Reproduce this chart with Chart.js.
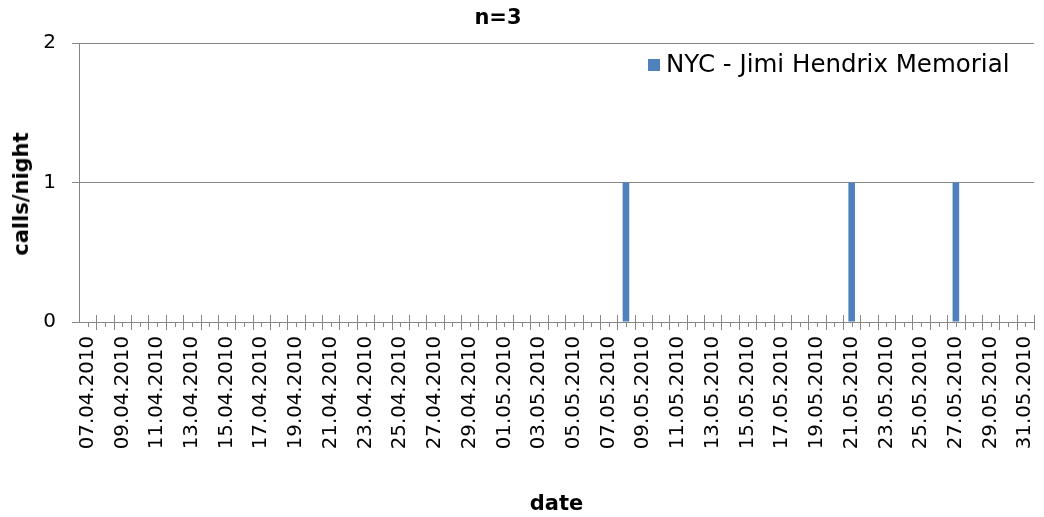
<!DOCTYPE html>
<html>
<head>
<meta charset="utf-8">
<script src="https://cdn.jsdelivr.net/npm/chart.js@4/dist/chart.umd.min.js"></script>
<style>
  html, body { margin: 0; padding: 0; background: #fff; }
  #wrap { position: relative; width: 1044px; height: 517px; font-family: 'DejaVu Sans', Verdana, sans-serif; color: #000; }
  #title { position: absolute; top: 4px; left: 448px; width: 100px; text-align: center; font-size: 21px; font-weight: bold; line-height: 26px; }
  #ytitle { position: absolute; left: 21px; top: 194px; transform: translate(-50%, -50%) rotate(-90deg); white-space: nowrap; font-size: 21px; font-weight: bold; line-height: 26px; }
  #legend { position: absolute; left: 648px; top: 49px; white-space: nowrap; font-size: 24.5px; line-height: 30px; }
  #legend .sw { display: inline-block; width: 12px; height: 12px; background: #4F81BD; margin-right: 6px; vertical-align: 1px; }
</style>
</head>
<body>
<div id="wrap">
  <canvas id="callsChart" width="1044" height="517"></canvas>
  <div id="title">n=3</div>
  <div id="ytitle">calls/night</div>
  <div id="legend"><span class="sw"></span><span id="legendText"></span></div>
</div>
<script>
// one category per night, 07.04.2010 .. 31.05.2010
const firstNight = new Date(2010, 3, 7);
const nightCount = 55;
const dates = [];
for (let i = 0; i < nightCount; i++) {
  const d = new Date(firstNight.getFullYear(), firstNight.getMonth(), firstNight.getDate() + i);
  const dd = String(d.getDate()).padStart(2, '0');
  const mm = String(d.getMonth() + 1).padStart(2, '0');
  dates.push(dd + '.' + mm + '.' + d.getFullYear());
}

const seriesName = 'NYC - Jimi Hendrix Memorial';
// calls on 08.05, 21.05 and 27.05, nothing on the other nights
const callsPerNight = [
  0, 0, 0, 0, 0, 0, 0, 0, 0, 0,   // 07.04 - 16.04
  0, 0, 0, 0, 0, 0, 0, 0, 0, 0,   // 17.04 - 26.04
  0, 0, 0, 0, 0, 0, 0, 0, 0, 0,   // 27.04 - 06.05
  0, 1, 0, 0, 0, 0, 0, 0, 0, 0,   // 07.05 - 16.05
  0, 0, 0, 0, 1, 0, 0, 0, 0, 0,   // 17.05 - 26.05
  1, 0, 0, 0, 0                   // 27.05 - 31.05
];

const yTicks = [0, 1, 2];

const AXIS_GREY = '#868686';
const FONT = "'DejaVu Sans', Verdana, sans-serif";

document.getElementById('legendText').textContent = seriesName;

// excel style tick marks: crossing marks between nights, short outside marks on nights
const axisTicks = {
  id: 'axisTicks',
  afterDraw(chart) {
    const x = chart.scales.x;
    const ctx = chart.ctx;
    const y0 = x.top;
    const half = (x.getPixelForValue(1) - x.getPixelForValue(0)) / 2;
    ctx.save();
    ctx.strokeStyle = AXIS_GREY;
    ctx.lineWidth = 1;
    ctx.beginPath();
    for (let i = 0; i < dates.length; i++) {
      const c = Math.round(x.getPixelForValue(i)) + 0.5;
      const b = Math.round(x.getPixelForValue(i) + half) + 0.5;
      ctx.moveTo(c, y0);
      ctx.lineTo(c, y0 + 5);
      ctx.moveTo(b, y0 - 7);
      ctx.lineTo(b, y0 + 8);
    }
    ctx.stroke();
    ctx.restore();
  }
};

new Chart(document.getElementById('callsChart'), {
  type: 'bar',
  data: {
    labels: dates,
    datasets: [{
      label: seriesName,
      data: callsPerNight,
      backgroundColor: '#4F81BD',
      borderWidth: 0,
      barPercentage: 0.38,
      categoryPercentage: 1
    }]
  },
  options: {
    responsive: false,
    animation: false,
    layout: { padding: { top: 43, right: 10, left: 0, bottom: 0 } },
    plugins: {
      title: { display: false },
      legend: { display: false },
      tooltip: { enabled: false }
    },
    scales: {
      x: {
        offset: true,
        grid: { display: true, drawOnChartArea: false, drawTicks: false, offset: true },
        border: { color: AXIS_GREY, width: 1 },
        ticks: {
          autoSkip: false,
          minRotation: 90,
          maxRotation: 90,
          padding: 14,
          color: '#000',
          font: { family: FONT, size: 19.8 },
          callback: (v, i) => (i % 2 === 0 ? dates[i] : '')
        },
        title: {
          display: true,
          text: 'date',
          color: '#000',
          font: { family: FONT, size: 21, weight: 'bold' },
          padding: { top: 0, bottom: 0 }
        },
        afterFit: (s) => { s.height = 195; s.paddingLeft = 0; s.paddingRight = 0; }
      },
      y: {
        min: 0,
        max: 2,
        afterBuildTicks: (s) => { s.ticks = yTicks.map(v => ({ value: v })); },
        grid: { color: AXIS_GREY, tickLength: 7, drawTicks: true },
        border: { color: AXIS_GREY, width: 1 },
        ticks: {
          padding: 16,
          color: '#000',
          font: { family: FONT, size: 20 }
        },
        title: { display: false },
        afterFit: (s) => { s.width = 79; s.paddingTop = 0; s.paddingBottom = 0; }
      }
    }
  },
  plugins: [axisTicks]
});
</script>
</body>
</html>
